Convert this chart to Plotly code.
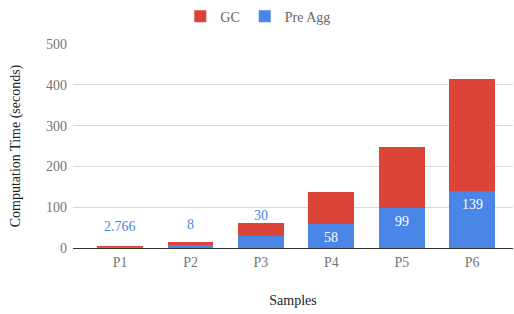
import plotly.graph_objects as go

categories = ["P1", "P2", "P3", "P4", "P5", "P6"]
pre_agg = [2.766, 8, 30, 58, 99, 139]
gc = [1.5, 6, 31, 80, 148, 275]
pre_labels = ["2.766", "8", "30", "58", "99", "139"]
outside = [True, True, True, False, False, False]

BLUE = "#4a86e8"
RED = "#db4437"
FONT = "Liberation Serif"

fig = go.Figure()
fig.add_trace(go.Bar(
    x=categories, y=pre_agg, name="Pre Agg", marker_color=BLUE,
    marker_line_width=0, hoverinfo="skip",
))
fig.add_trace(go.Bar(
    x=categories, y=gc, name="GC", marker_color=RED,
    marker_line_width=0, hoverinfo="skip",
))

for c, v, t, o in zip(categories, pre_agg, pre_labels, outside):
    if o:
        fig.add_annotation(x=c, y=v, text=t, showarrow=False, yanchor="bottom",
                           yshift=11, font=dict(color=BLUE, size=14, family=FONT))
    else:
        fig.add_annotation(x=c, y=v, text=t, showarrow=False, yanchor="top",
                           yshift=-4, font=dict(color="white", size=14, family=FONT))

fig.update_layout(
    width=514, height=314,
    barmode="stack", bargap=0.35,
    plot_bgcolor="white", paper_bgcolor="white",
    margin=dict(l=73, r=1, t=44, b=66, autoexpand=False),
    font=dict(family=FONT, size=14, color="#757575"),
    legend=dict(orientation="h", x=0.42, xanchor="center", y=0.998, yanchor="top",
                yref="container", traceorder="reversed",
                font=dict(size=14, color="#666666", family=FONT), itemwidth=30),
    xaxis=dict(range=[-0.67, 5.58], showgrid=False, ticks="", automargin=False,
               ticklabelstandoff=4,
               title=dict(text="Samples", font=dict(color="#222222", size=14, family=FONT), standoff=26),
               tickfont=dict(color="#757575", size=14, family=FONT)),
    yaxis=dict(range=[0, 500], dtick=100, showgrid=True, gridcolor="#d9d9d9",
               zeroline=True, zerolinecolor="#333333", zerolinewidth=1, automargin=False,
               ticks="", ticklabelstandoff=5, tickfont=dict(color="#757575", size=14, family=FONT),
               title=dict(text="Computation Time (seconds)", font=dict(color="#222222", size=14, family=FONT), standoff=22)),
    showlegend=True,
)

fig.write_html("out.html", config={"displayModeBar": False},
               post_script="document.body.style.margin='0';document.body.style.padding='0';")
